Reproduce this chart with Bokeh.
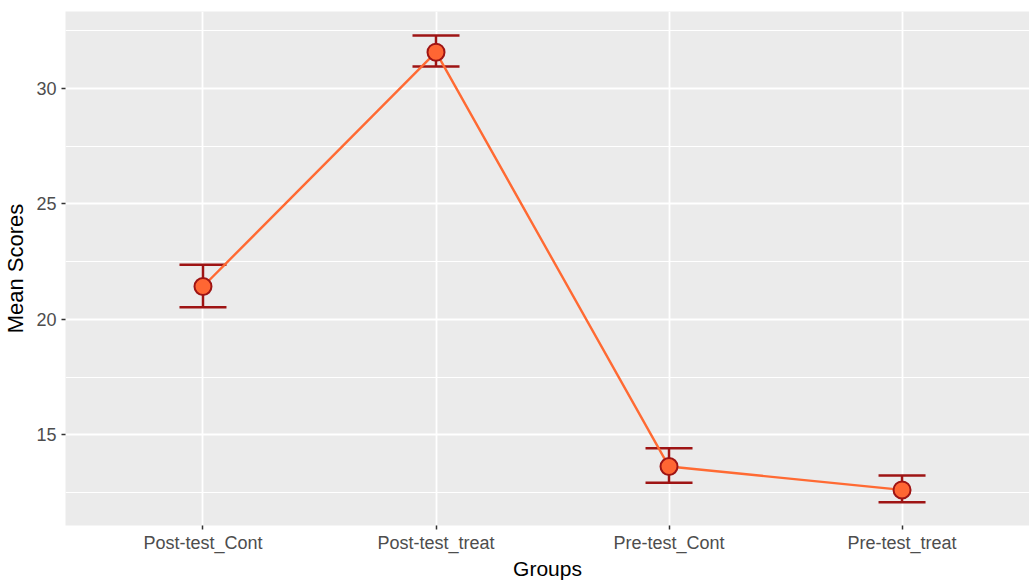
from bokeh.plotting import figure
from bokeh.models import Range1d, FixedTicker, SingleIntervalTicker, Whisker, TeeHead, ColumnDataSource
from bokeh.embed import file_html
from bokeh.resources import INLINE

groups = ["Post-test_Cont", "Post-test_treat", "Pre-test_Cont", "Pre-test_treat"]
means = [21.42, 31.56, 13.63, 12.62]
upper = [22.36, 32.28, 14.42, 13.24]
lower = [20.52, 30.94, 12.93, 12.09]

xpos = list(range(1, len(groups) + 1))
src = ColumnDataSource(data=dict(x=xpos, mean=means, upper=upper, lower=lower, group=groups))

FONT = "Liberation Sans"

p = figure(width=1029, height=584, output_backend="svg", toolbar_location=None,
           x_range=Range1d(0.410, 4.547), y_range=Range1d(11.08, 33.32),
           min_border_left=64, min_border_top=11, min_border_bottom=59, min_border_right=0,
           background_fill_color="#EBEBEB", border_fill_color="white", outline_line_color=None)

# axes
p.xaxis.ticker = FixedTicker(ticks=xpos, minor_ticks=[])
p.xaxis.major_label_overrides = {x: g for x, g in zip(xpos, groups)}
p.yaxis.ticker = SingleIntervalTicker(interval=5, num_minor_ticks=2)
for ax in (p.xaxis[0], p.yaxis[0]):
    ax.axis_line_color = None
    ax.major_tick_line_color = "#333333"
    ax.major_tick_line_width = 1.5
    ax.major_tick_out = 4
    ax.major_tick_in = 0
    ax.minor_tick_line_color = None
    ax.major_label_text_font = FONT
    ax.major_label_text_font_size = "18px"
    ax.major_label_text_color = "#4D4D4D"
    ax.axis_label_text_font = FONT
    ax.axis_label_text_font_style = "normal"
    ax.axis_label_text_color = "black"
p.xaxis.axis_label = "Groups"
p.yaxis.axis_label = "Mean Scores"
p.xaxis.axis_label_text_font_size = "21px"
p.yaxis.axis_label_text_font_size = "22px"
p.xaxis.major_label_standoff = 3
p.xaxis.axis_label_standoff = 1
p.yaxis.major_label_standoff = 5
p.yaxis.axis_label_standoff = 5

# grids
p.xgrid.grid_line_color = "white"
p.xgrid.grid_line_width = 1.8
p.ygrid.grid_line_color = "white"
p.ygrid.grid_line_width = 1.8
p.ygrid.minor_grid_line_color = "white"
p.ygrid.minor_grid_line_width = 1

# error bars
ERR = "#9E1414"
w = Whisker(source=src, base="x", upper="upper", lower="lower", dimension="height",
            line_color=ERR, line_width=2.5,
            upper_head=TeeHead(size=47, line_color=ERR, line_width=2.5),
            lower_head=TeeHead(size=47, line_color=ERR, line_width=2.5))
p.add_layout(w)

# line and points
p.line("x", "mean", source=src, line_color="#FF6A33", line_width=2.4)
p.scatter("x", "mean", source=src, size=17, fill_color="#FF6633",
          line_color="#9E1414", line_width=2)

open("out.html", "w").write(file_html(p, INLINE))
